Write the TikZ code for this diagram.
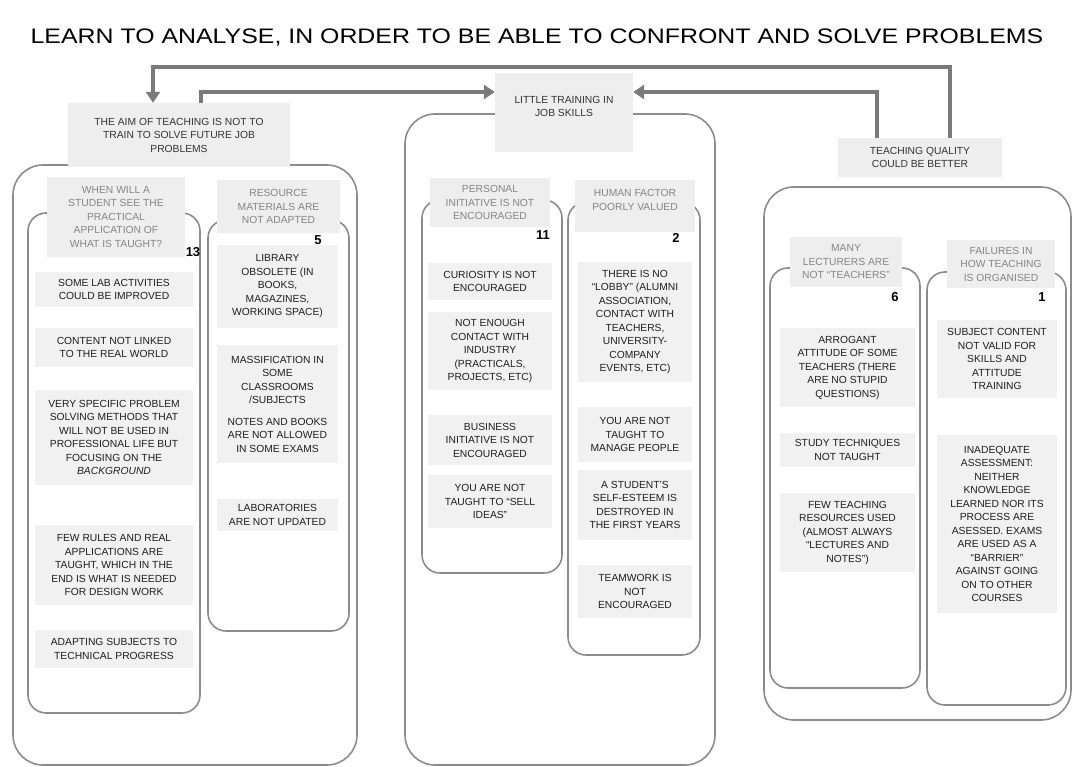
\documentclass[tikz,border=0pt]{standalone}
\usepackage{fontspec}
\setmainfont{Liberation Sans}
\usetikzlibrary{arrows.meta}
\definecolor{hdrfill}{HTML}{EEEEEE}
\definecolor{itemfill}{HTML}{F1F1F1}
\definecolor{linegray}{HTML}{8C8C8C}
\definecolor{arrowgray}{HTML}{7A7A7A}
\definecolor{txtdark}{HTML}{1E1E1E}
\definecolor{txtmid}{HTML}{333333}
\definecolor{txtlight}{HTML}{858585}
\begin{document}
\begin{tikzpicture}[x=1pt,y=-1pt,
  outl/.style={draw=linegray, line width=1.6pt},
  hdr/.style={fill=hdrfill, text=txtmid, align=center, inner sep=0pt, font=\fontsize{10.3}{13.5}\selectfont},
  shdr/.style={hdr, text=txtlight},
  item/.style={fill=itemfill, text=txtdark, align=center, inner sep=0pt, font=\fontsize{10.3}{13.5}\selectfont},
  num/.style={font=\fontsize{13}{13}\selectfont\bfseries, text=black, inner sep=0pt},
  arr/.style={draw=arrowgray, line width=4pt, -{Triangle[length=11pt,width=14pt]}},
]
\useasboundingbox (0,0) rectangle (1074,767);

\node[font=\fontsize{21}{21}\selectfont, text=black] (title) at (537,38) {\scalebox{1.185}[1]{LEARN TO ANALYSE, IN ORDER TO BE ABLE TO CONFRONT AND SOLVE PROBLEMS}};

% group outlines
\draw[outl, rounded corners=30pt] (13,165) rectangle (357,765);
\draw[outl, rounded corners=30pt] (405,114) rectangle (715,765);
\draw[outl, rounded corners=30pt] (764,187) rectangle (1071,720);

% sub-group outlines
\draw[outl, rounded corners=18pt] (28,213) rectangle (200,713);
\draw[outl, rounded corners=18pt] (208,220) rectangle (349,631);
\draw[outl, rounded corners=18pt] (422,200) rectangle (562,573);
\draw[outl, rounded corners=18pt] (568,202) rectangle (700,655);
\draw[outl, rounded corners=18pt] (770,268) rectangle (920,688);
\draw[outl, rounded corners=18pt] (927,272) rectangle (1066,705);

% main headers
\node[hdr, minimum width=222pt, minimum height=64pt] (aim) at (179,135) {THE AIM OF TEACHING IS NOT TO\\TRAIN TO SOLVE FUTURE JOB\\PROBLEMS};
\node[hdr, minimum width=138pt, minimum height=79pt] (little) at (564,112.5) {LITTLE TRAINING IN\\JOB SKILLS\\[-1.5pt]\mbox{}};
\node[hdr, minimum width=164pt, minimum height=39pt] (teach) at (920,157.5) {TEACHING QUALITY\\COULD BE BETTER};

% sub headers
\node[shdr, minimum width=138pt, minimum height=80pt] (when) at (116,217) {WHEN WILL A\\STUDENT SEE THE\\PRACTICAL\\APPLICATION OF\\WHAT IS TAUGHT?};
\node[shdr, minimum width=123pt, minimum height=53pt] (resource) at (278.5,206.5) {RESOURCE\\MATERIALS ARE\\NOT ADAPTED};
\node[shdr, minimum width=120pt, minimum height=49pt] (personal) at (490,202.5) {PERSONAL\\INITIATIVE IS NOT\\ENCOURAGED};
\node[shdr, minimum width=120pt, minimum height=52pt] (human) at (635,206) {HUMAN FACTOR\\POORLY VALUED\\[-1.5pt]\mbox{}};
\node[shdr, minimum width=112pt, minimum height=50pt] (many) at (846,262) {MANY\\LECTURERS ARE\\NOT “TEACHERS”};
\node[shdr, minimum width=108pt, minimum height=48pt] (failures) at (1001,264) {FAILURES IN\\HOW TEACHING\\IS ORGANISED};

% numbers
\node[num] (n13) at (193,252) {13};
\node[num] (n5) at (318,240) {5};
\node[num] (n11) at (543,235) {11};
\node[num] (n2) at (676,238) {2};
\node[num] (n6) at (895,297) {6};
\node[num] (n1) at (1042,297) {1};

% left column items
\node[item, minimum width=158pt, minimum height=35pt] (lab) at (114,289.5) {SOME LAB ACTIVITIES\\COULD BE IMPROVED};
\node[item, minimum width=158pt, minimum height=39pt] (content) at (114,347.5) {CONTENT NOT LINKED\\TO THE REAL WORLD};
\node[item, minimum width=158pt, minimum height=95pt] (very) at (114,437.5) {VERY SPECIFIC PROBLEM\\SOLVING METHODS THAT\\WILL NOT BE USED IN\\PROFESSIONAL LIFE BUT\\FOCUSING ON THE\\\textit{BACKGROUND}};
\node[item, minimum width=158pt, minimum height=80pt] (fewrules) at (114,565) {FEW RULES AND REAL\\APPLICATIONS ARE\\TAUGHT, WHICH IN THE\\END IS WHAT IS NEEDED\\FOR DESIGN WORK};
\node[item, minimum width=158pt, minimum height=38pt] (adapt) at (114,649) {ADAPTING SUBJECTS TO\\TECHNICAL PROGRESS};

% resource column items
\node[item, minimum width=121pt, minimum height=83pt] (library) at (277.5,286.5) {LIBRARY\\OBSOLETE (IN\\BOOKS,\\MAGAZINES,\\WORKING SPACE)};
\node[item, minimum width=121pt, minimum height=118pt] (mass) at (277.5,404) {MASSIFICATION IN\\SOME\\CLASSROOMS\\/SUBJECTS\\[8pt]NOTES AND BOOKS\\ARE NOT ALLOWED\\IN SOME EXAMS};
\node[item, minimum width=121pt, minimum height=32pt] (labs) at (277.5,515) {LABORATORIES\\ARE NOT UPDATED};

% personal column items
\node[item, minimum width=124pt, minimum height=37pt] (curiosity) at (490,281.5) {CURIOSITY IS NOT\\ENCOURAGED};
\node[item, minimum width=124pt, minimum height=78pt] (contact) at (490,351) {NOT ENOUGH\\CONTACT WITH\\INDUSTRY\\(PRACTICALS,\\PROJECTS, ETC)};
\node[item, minimum width=124pt, minimum height=50pt] (business) at (490,440) {BUSINESS\\INITIATIVE IS NOT\\ENCOURAGED};
\node[item, minimum width=124pt, minimum height=53pt] (sell) at (490,501.5) {YOU ARE NOT\\TAUGHT TO “SELL\\IDEAS”};

% human column items
\node[item, minimum width=114pt, minimum height=120pt] (lobby) at (635,322) {THERE IS NO\\“LOBBY” (ALUMNI\\ASSOCIATION,\\CONTACT WITH\\TEACHERS,\\UNIVERSITY-\\COMPANY\\EVENTS, ETC)};
\node[item, minimum width=114pt, minimum height=55pt] (manage) at (635,434.5) {YOU ARE NOT\\TAUGHT TO\\MANAGE PEOPLE};
\node[item, minimum width=114pt, minimum height=70pt] (esteem) at (635,505) {A STUDENT’S\\SELF-ESTEEM IS\\DESTROYED IN\\THE FIRST YEARS};
\node[item, minimum width=114pt, minimum height=53pt] (teamwork) at (635,591.5) {TEAMWORK IS\\NOT\\ENCOURAGED};

% many column items
\node[item, minimum width=135pt, minimum height=79pt] (arrogant) at (847.5,367.5) {ARROGANT\\ATTITUDE OF SOME\\TEACHERS (THERE\\ARE NO STUPID\\QUESTIONS)};
\node[item, minimum width=135pt, minimum height=34pt] (study) at (847.5,450) {STUDY TECHNIQUES\\NOT TAUGHT};
\node[item, minimum width=135pt, minimum height=79pt] (fewres) at (847.5,532.5) {FEW TEACHING\\RESOURCES USED\\(ALMOST ALWAYS\\“LECTURES AND\\NOTES”)};

% failures column items
\node[item, minimum width=120pt, minimum height=78pt] (subject) at (997,359) {SUBJECT CONTENT\\NOT VALID FOR\\SKILLS AND\\ATTITUDE\\TRAINING};
\node[item, minimum width=120pt, minimum height=178pt] (inadequate) at (997,524) {INADEQUATE\\ASSESSMENT:\\NEITHER\\KNOWLEDGE\\LEARNED NOR ITS\\PROCESS ARE\\ASESSED. EXAMS\\ARE USED AS A\\“BARRIER”\\AGAINST GOING\\ON TO OTHER\\COURSES};

% connectors
\draw[arr] ([xshift=30pt]teach.north) |- (153,67) -- ([xshift=-26pt]aim.north);
\draw[arr, line width=3.5pt] ([xshift=22pt]aim.north) |- (little.west |- 0,92);
\draw[arr, line width=3.5pt] ([xshift=-43pt]teach.north) |- (little.east |- 0,92);
\end{tikzpicture}
\end{document}
